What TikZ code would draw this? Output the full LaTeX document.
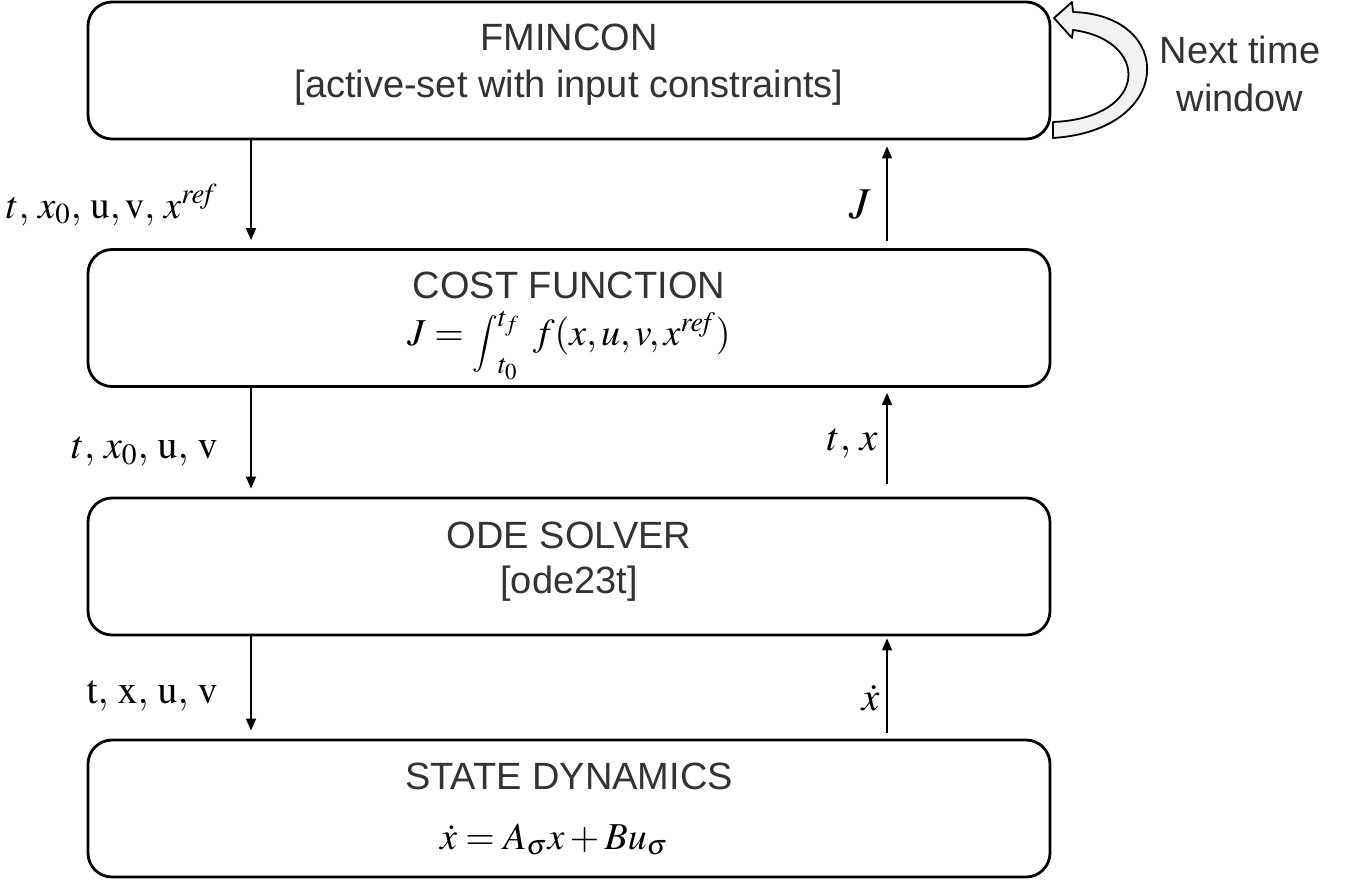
\documentclass[tikz,border=0pt]{standalone}
\usepackage{amsmath}
\usepackage{mathptmx}
\usepackage[no-math]{fontspec}
\setmainfont{Liberation Sans}
\usetikzlibrary{arrows.meta,positioning}
\definecolor{txtgray}{HTML}{333333}
\definecolor{loopfill}{HTML}{F2F2F2}
\newcommand{\costint}{\mathop{\raisebox{-3pt}{\scalebox{0.75}{$\displaystyle\int$}}}\nolimits}

\begin{document}
\begin{tikzpicture}[x=0.5pt,y=-0.5pt,
    block/.style={draw, line width=1.4pt, rounded corners=12pt,
      minimum width=481pt, minimum height=68.5pt, inner sep=0pt},
    head/.style={text=txtgray, font=\fontsize{19}{23}\selectfont, anchor=base, inner sep=0pt},
    eq/.style={font=\fontsize{19}{23}\selectfont, anchor=base, inner sep=0pt},
    lbl/.style={font=\fontsize{20}{24}\selectfont, anchor=base east, inner sep=0pt},
    flow/.style={-{Triangle[length=6pt,width=5pt]}, line width=0.75pt}]
  \useasboundingbox (0,0) rectangle (1358,879);
  % blocks
  \node[block] (fmincon) at (569,70.5) {};
  \node[block] (cost) at (569,318) {};
  \node[block] (ode) at (569,566.5) {};
  \node[block] (dyn) at (569,808.5) {};
  % texts in the blocks
  \node[head] (fmtitle) at (569,50) {FMINCON};
  \node[head] (fmsub) at (569,97) {[active-set with input constraints]};
  \node[head] (costtitle) at (569,298) {COST FUNCTION};
  \node[eq] (costeq) at (569,345)
    {$J=\costint_{t_0}^{t_f}\;f(x,u,v,x^{\mathit{ref}})$};
  \node[head] (odetitle) at (569,548) {ODE SOLVER};
  \node[head] (odesub) at (569,593) {[ode23t]};
  \node[head] (dyntitle) at (569,789) {STATE DYNAMICS};
  \node[eq] (dyneq) at (554,849) {$\dot{x}=A_\sigma x+Bu_\sigma$};
  % arrow columns
  \coordinate (L) at (251,0);
  \coordinate (R) at (887,0);
  \draw[flow, shorten >=4pt] (fmincon.south -| L) -- (cost.north -| L);
  \draw[flow, shorten >=4pt] (cost.south -| L) -- (ode.north -| L);
  \draw[flow, shorten >=4pt] (ode.south -| L) -- (dyn.north -| L);
  \draw[flow, shorten <=3.5pt, shorten >=3pt] (cost.north -| R) -- (fmincon.south -| R);
  \draw[flow, shorten <=6.5pt, shorten >=2.5pt] (ode.north -| R) -- (cost.south -| R);
  \draw[flow, shorten <=3pt, shorten >=1pt] (dyn.north -| R) -- (ode.south -| R);
  % labels
  \node[lbl, font=\fontsize{19.5}{24}\selectfont] (in1) at (218,218)
    {$t,\,x_0,\,\mathrm{u},\mathrm{v},\,x^{\mathit{ref}}$};
  \node[lbl] (in2) at (218,458) {$t,\,x_0,\,\mathrm{u},\,\mathrm{v}$};
  \node[lbl] (in3) at (218,703) {$\mathrm{t},\,\mathrm{x},\,\mathrm{u},\,\mathrm{v}$};
  \node[lbl] (out1) at (871,218) {\fontsize{22}{26}\selectfont$J$};
  \node[lbl] (out2) at (878,450) {$t,\,x$};
  \node[lbl] (out3) at (880,710) {$\dot{x}$};
  % next time window
  \draw[line width=0.9pt, fill=loopfill, line join=round]
    (1053,138) .. controls (1175,130) and (1175,15) .. (1073,12)
    -- (1072,2) -- (1054,18) -- (1072,38) -- (1073,30)
    .. controls (1150,40) and (1150,118) .. (1053,122) -- cycle;
  \node[head, align=center, anchor=center] (next) at (1240,74)
    {Next time\\[1pt]window};
\end{tikzpicture}
\end{document}
